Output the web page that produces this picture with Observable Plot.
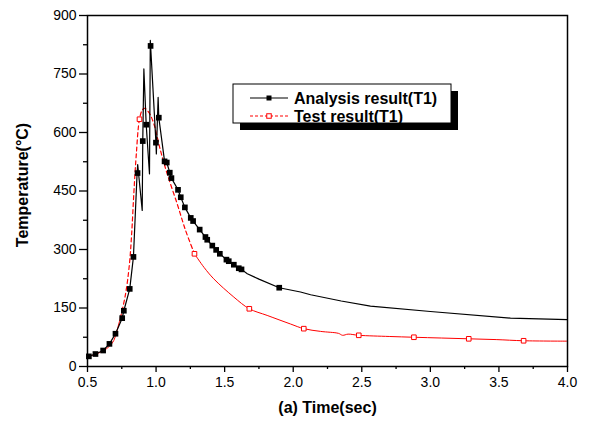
<!DOCTYPE html>
<html>
<head>
<meta charset="utf-8">
<script src="https://cdn.jsdelivr.net/npm/d3@7"></script>
<script src="https://cdn.jsdelivr.net/npm/@observablehq/plot@0.6"></script>
<style>
  html, body { margin: 0; padding: 0; background: #fff; }
  #chart svg { display: block; }
</style>
</head>
<body>
<div id="chart"></div>
<script>
// ---- Data (time in s, temperature in °C) ----
const analysisLine = [
  [0.5,25],[0.51,26],[0.558,32],[0.614,41],[0.66,58],[0.704,84],[0.753,124],[0.765,143],
  [0.808,199],[0.835,281],[0.862,498],[0.866,518],[0.899,400],[0.903,578],[0.911,763],
  [0.928,620],[0.952,494],[0.958,836],[0.999,574],[1.002,545],[1.015,690],[1.02,638],
  [1.062,526],[1.078,523],[1.1,497],[1.112,483],[1.16,453],[1.18,434],[1.21,408],
  [1.253,381],[1.27,373],[1.318,351],[1.36,332],[1.373,325],[1.41,310],[1.438,299],
  [1.465,289],[1.513,274],[1.53,270],[1.567,261],[1.603,252],[1.623,249],[1.665,238],
  [1.75,224],[1.898,202],[2.053,191],[2.127,184],[2.35,168],[2.563,155],[3.0,141],
  [3.584,124],[4.0,120]
];
const analysisMarks = [
  [0.51,26],[0.558,32],[0.614,41],[0.66,58],[0.704,84],[0.753,124],[0.765,143],
  [0.808,199],[0.835,281],[0.865,496],[0.903,578],[0.928,620],[0.96,822],[0.999,574],
  [1.02,638],[1.062,526],[1.078,523],[1.1,497],[1.112,483],[1.16,453],[1.18,434],
  [1.21,408],[1.253,381],[1.27,373],[1.318,351],[1.36,332],[1.373,325],[1.41,310],
  [1.438,299],[1.465,289],[1.513,274],[1.53,270],[1.567,261],[1.603,252],[1.623,249],
  [1.898,202]
];
const testLine = [
  [0.5,23],[0.522,27],[0.57,33],[0.619,41],[0.66,52],[0.692,67],[0.728,109],[0.74,125],
  [0.777,185],[0.805,260],[0.822,340],[0.838,445],[0.855,540],[0.879,634],[0.9,658],
  [0.918,662],[0.95,650],[0.984,622],[1.032,554],[1.081,494],[1.154,417],[1.215,349],
  [1.28,289],[1.35,254],[1.42,225],[1.567,178],[1.68,148],[1.81,131],[1.98,109],
  [2.077,97],[2.2,90],[2.33,85],[2.36,80],[2.4,83],[2.478,80],[2.7,77],[2.88,75],
  [3.08,73],[3.28,71],[3.48,69],[3.68,66],[4.0,65]
];
const testMarks = [
  [0.879,634],[1.28,289],[1.68,148],[2.077,97],[2.478,80],[2.88,75],[3.28,71],[3.68,66]
];
const xMajor = [0.5,1.0,1.5,2.0,2.5,3.0,3.5,4.0];
const xMinor = [0.75,1.25,1.75,2.25,2.75,3.25,3.75];
const yMajor = [0,150,300,450,600,750,900];
const yMinor = [75,225,375,525,675,825];
const seriesNames = ["Analysis result(T1)", "Test result(T1)"];
const xTitle = "(a) Time(sec)";
const yTitle = "Temperature(°C)";
const dashStart = 0.74, dashEnd = 1.28;

const font = "'Liberation Sans', Arial, sans-serif";

const chart = Plot.plot({
  width: 592,
  height: 422,
  marginLeft: 87,
  marginRight: 25,
  marginTop: 15,
  marginBottom: 56,
  style: { fontFamily: font, fontSize: "14px", background: "#fff", color: "#000" },
  x: { domain: [0.5, 4.0] },
  y: { domain: [0, 900] },
  marks: [
    // test result line (solid where dense, dashed near the peak)
    Plot.line(testLine.filter(d => d[0] <= dashStart), {x: d => d[0], y: d => d[1], stroke: "#ff0000", strokeWidth: 1, curve: "catmull-rom"}),
    Plot.line(testLine.filter(d => d[0] >= dashStart && d[0] <= dashEnd), {x: d => d[0], y: d => d[1], stroke: "#ff0000", strokeWidth: 1.2, strokeDasharray: "4,3", curve: "catmull-rom"}),
    Plot.line(testLine.filter(d => d[0] >= dashEnd), {x: d => d[0], y: d => d[1], stroke: "#ff0000", strokeWidth: 1, curve: "catmull-rom"}),
    // analysis line
    Plot.line(analysisLine, {x: d => d[0], y: d => d[1], stroke: "#000", strokeWidth: 1.2}),
    Plot.dot(analysisMarks, {x: d => d[0], y: d => d[1], symbol: "square", r: 3.2, fill: "#000", stroke: "none"}),
    Plot.dot(testMarks, {x: d => d[0], y: d => d[1], symbol: "square", r: 2.6, fill: "#fff", stroke: "#ff0000", strokeWidth: 1}),
    // axes
    Plot.axisX({ticks: xMajor, tickSize: 6, tickPadding: 5, tickFormat: d3.format(".1f"), label: null, fontSize: 14, strokeWidth: 1.3}),
    Plot.axisX({ticks: xMinor, tickSize: 3, tickFormat: () => "", label: null, strokeWidth: 1.3}),
    Plot.axisY({ticks: yMajor, tickSize: 8, tickPadding: 3, tickFormat: d3.format("d"), label: null, fontSize: 14, strokeWidth: 1.3}),
    Plot.axisY({ticks: yMinor, tickSize: 4, tickFormat: () => "", label: null, strokeWidth: 1.3}),
    Plot.frame({stroke: "#000", strokeWidth: 1.5}),
    // axis titles
    Plot.text([xTitle], {frameAnchor: "bottom", dy: 46, fontWeight: "bold", fontSize: 16, fill: "#000"}),
    Plot.text([yTitle], {frameAnchor: "left", textAnchor: "middle", dx: -65, dy: -6, rotate: -90, fontWeight: "bold", fontSize: 16, fill: "#000"})
  ]
});

document.getElementById("chart").appendChild(chart);

// ---- Legend box with drop shadow (overlay) ----
const svg = d3.select(chart);
const lg = svg.append("g").attr("font-family", font).attr("text-anchor", "start");
const bx = 233, by = 84, bw = 218, bh = 39, sh = 7;
lg.append("rect").attr("x", bx + sh).attr("y", by + sh).attr("width", bw).attr("height", bh).attr("fill", "#000");
lg.append("rect").attr("x", bx).attr("y", by).attr("width", bw).attr("height", bh).attr("fill", "#fff").attr("stroke", "#000").attr("stroke-width", 1);
const rows = [
  {name: seriesNames[0], y: by + 14, color: "#000", dash: null, fill: "#000", stroke: "none", s: 5},
  {name: seriesNames[1], y: by + 32, color: "#ff0000", dash: "3,2", fill: "#fff", stroke: "#ff0000", s: 4.5}
];
rows.forEach(r => {
  const ln = lg.append("line").attr("x1", bx + 17).attr("x2", bx + 55).attr("y1", r.y).attr("y2", r.y)
    .attr("stroke", r.color).attr("stroke-width", 1.2);
  if (r.dash) ln.attr("stroke-dasharray", r.dash);
  lg.append("rect").attr("x", bx + 36 - r.s / 2).attr("y", r.y - r.s / 2).attr("width", r.s).attr("height", r.s)
    .attr("fill", r.fill).attr("stroke", r.stroke);
  lg.append("text").attr("x", bx + 61).attr("y", r.y).attr("dy", "0.36em").attr("text-anchor", "start")
    .attr("font-size", 16).attr("font-weight", "bold").attr("fill", "#000").text(r.name);
});
</script>
</body>
</html>
